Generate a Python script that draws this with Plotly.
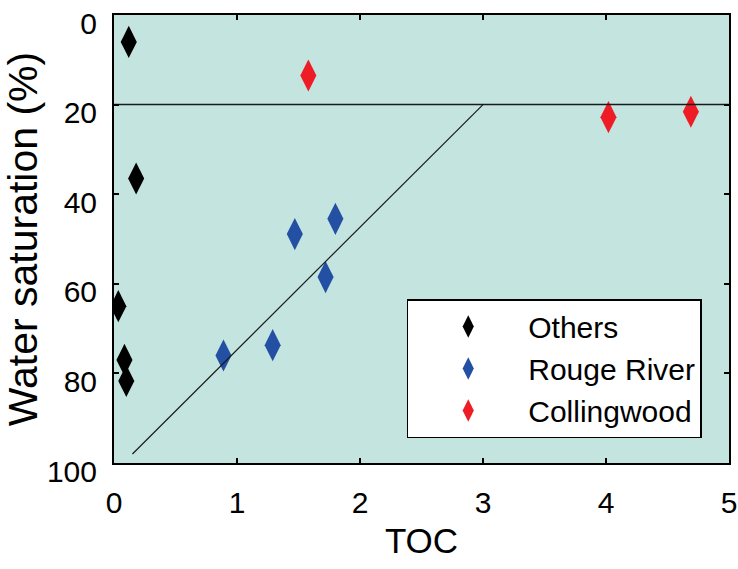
import plotly.graph_objects as go

# Data
others_toc = [0.12, 0.18, 0.035, 0.085, 0.10]
others_sw = [6.0, 36.5, 65.0, 77.0, 81.7]

rouge_toc = [0.89, 1.29, 1.47, 1.80, 1.72]
rouge_sw = [76.0, 73.7, 48.9, 45.5, 58.5]

colling_toc = [1.58, 4.02, 4.69]
colling_sw = [13.5, 22.8, 21.6]

# Reference lines
cutoff_x = [0, 5]
cutoff_y = [20, 20]
trend_x = [0.15, 3.0]
trend_y = [98, 20]

x_ticks = [0, 1, 2, 3, 4, 5]
y_ticks = [0, 20, 40, 60, 80, 100]

FONT = "Liberation Sans, Arial, sans-serif"

fig = go.Figure()

series = [
    ("Others", others_toc, others_sw, "#000000"),
    ("Rouge River", rouge_toc, rouge_sw, "#2450A4"),
    ("Collingwood", colling_toc, colling_sw, "#EE1C25"),
]
for name, xs, ys, col in series:
    fig.add_trace(go.Scatter(
        x=xs, y=ys, mode="markers", name=name,
        marker=dict(symbol="diamond-tall", size=23, color=col, line=dict(width=0)),
    ))

fig.add_trace(go.Scatter(x=cutoff_x, y=cutoff_y, mode="lines", showlegend=False,
                         line=dict(color="#1a1a1a", width=1.5), hoverinfo="skip"))
fig.add_trace(go.Scatter(x=trend_x, y=trend_y, mode="lines", showlegend=False,
                         line=dict(color="#1a1a1a", width=1.2), hoverinfo="skip"))

axis_common = dict(
    showgrid=False, zeroline=False, showline=True, linecolor="black", linewidth=2,
    mirror="ticks", ticks="inside", ticklen=5, tickwidth=1.5, tickcolor="black",
    tickfont=dict(family=FONT, size=30, color="black"),
    automargin=False, ticklabeloverflow="allow",
)

fig.update_xaxes(range=[0, 5], tickvals=x_ticks, ticktext=[str(v) for v in x_ticks],
                 title=dict(text="TOC", font=dict(family=FONT, size=35, color="black"), standoff=10),
                 ticklabelstandoff=12, **axis_common)
fig.update_yaxes(range=[100, 0], tickvals=y_ticks, ticktext=[str(v) for v in y_ticks],
                 title=dict(text="Water saturation (%)", font=dict(family=FONT, size=41, color="black"), standoff=18),
                 ticklabelstandoff=9, ticklabelshift=-8, **axis_common)

fig.update_layout(
    width=738, height=569,
    margin=dict(l=114, r=9, t=15, b=106, autoexpand=False),
    paper_bgcolor="white", plot_bgcolor="#C4E4E0",
    font=dict(family=FONT, color="black"),
    legend=dict(
        x=0.476, y=0.366, xanchor="left", yanchor="top",
        bgcolor="white", bordercolor="black", borderwidth=1.5,
        font=dict(family=FONT, size=30, color="black"),
        itemwidth=110,
    ),
)

# Remove the default page margin so the figure fills the window exactly.
fig.write_html("out.html",
               config={"displayModeBar": False},
               post_script="document.body.style.margin='0';document.body.style.overflow='hidden';")
